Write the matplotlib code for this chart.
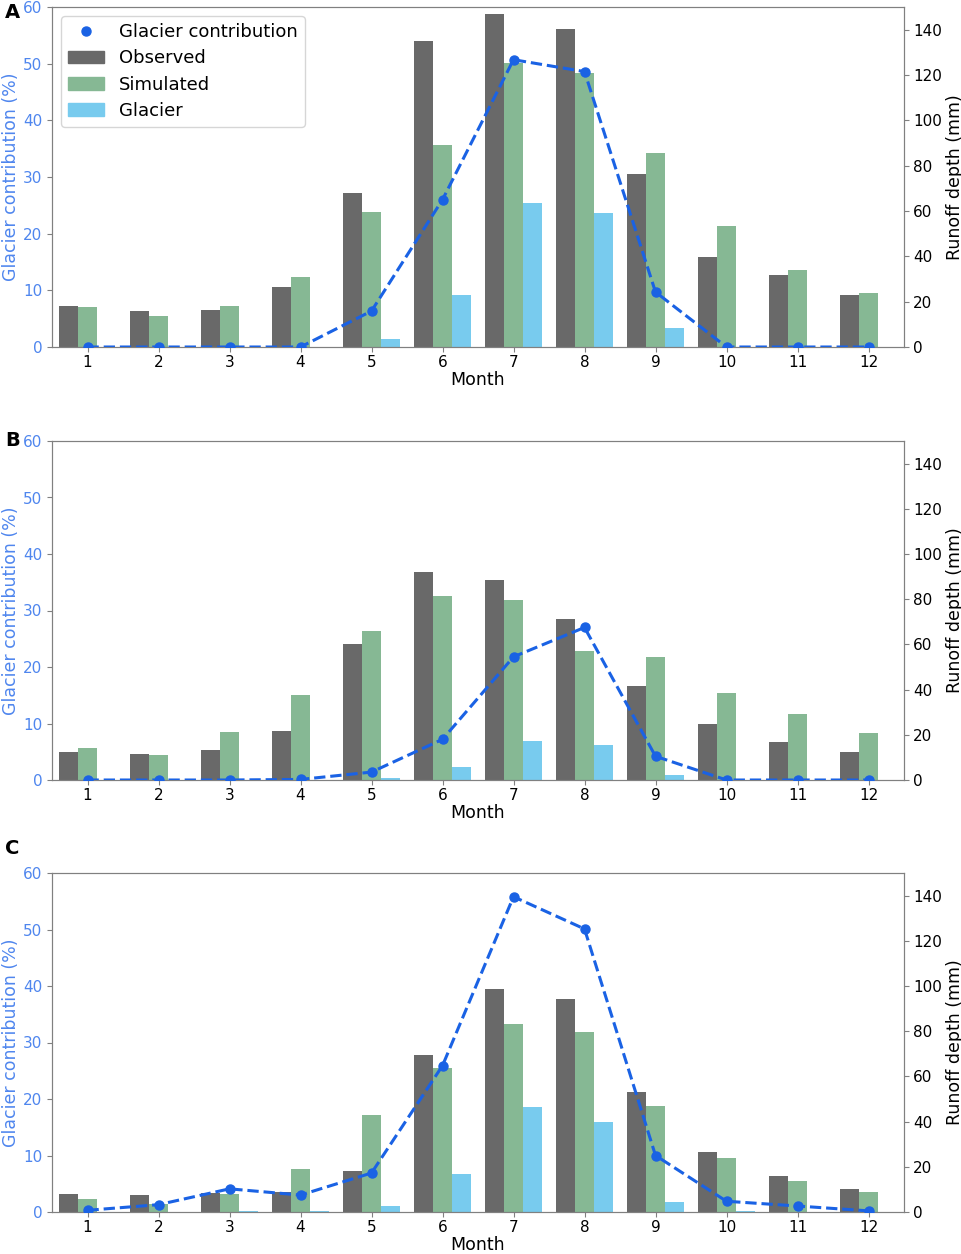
import matplotlib
matplotlib.use("Agg")
import matplotlib.pyplot as plt
import numpy as np
from matplotlib.patches import Patch
from matplotlib.lines import Line2D

months = list(range(1, 13))
month_labels = [str(m) for m in months]

# Panel A
obs_A = [18.1, 15.9, 16.5, 26.6, 67.9, 135.1, 147.0, 140.2, 76.4, 39.9, 31.6, 23.0]
sim_A = [17.6, 13.7, 18.2, 30.9, 59.4, 89.1, 125.3, 121.0, 85.5, 53.2, 34.0, 23.8]
gla_A = [0, 0, 0, 0, 3.7, 23.1, 63.7, 58.9, 8.3, 0, 0, 0]
pct_A = [0, 0, 0, 0, 6.35, 26.0, 50.7, 48.6, 9.7, 0, 0, 0]

# Panel B
obs_B = [12.6, 11.4, 13.2, 21.9, 60.2, 92.1, 88.4, 71.4, 41.8, 25.0, 16.7, 12.6]
sim_B = [14.0, 11.1, 21.1, 37.7, 65.8, 81.6, 79.8, 57.3, 54.4, 38.4, 29.4, 21.0]
gla_B = [0, 0, 0, 0, 1.0, 5.9, 17.4, 15.5, 2.4, 0, 0, 0]
pct_B = [0, 0, 0, 0.1, 1.4, 7.2, 21.8, 27.0, 4.2, 0, 0, 0]

# Panel C
obs_C = [8.1, 7.7, 8.6, 8.9, 18.1, 69.6, 98.5, 94.2, 53.0, 26.7, 16.0, 10.1]
sim_C = [5.6, 3.7, 8.1, 19.0, 43.0, 63.9, 83.4, 79.6, 46.8, 24.1, 13.8, 8.9]
gla_C = [0, 0, 0.4, 0.5, 2.8, 16.6, 46.4, 39.7, 4.6, 0.3, 0, 0]
pct_C = [0.3, 1.3, 4.1, 3.0, 6.9, 25.9, 55.8, 50.1, 10.0, 1.9, 1.06, 0.2]

panels = [
    ("A", obs_A, sim_A, gla_A, pct_A),
    ("B", obs_B, sim_B, gla_B, pct_B),
    ("C", obs_C, sim_C, gla_C, pct_C),
]

c_obs = "#696969"
c_sim = "#86b894"
c_gla = "#78cbee"
c_line = "#1a62e4"
c_left = "#4f86ee"
c_spine = "#808080"

W, H = 962, 1254
fig = plt.figure(figsize=(W / 100, H / 100), dpi=100)

rects = [(52, 7, 904, 347), (52, 441, 904, 780), (52, 873, 904, 1212)]
label_y = [12, 440, 848]

x = np.array(months)
w = 0.27

for (name, obs, sim, gla, pct), (l, t, r, b), ly in zip(panels, rects, label_y):
    ax = fig.add_axes([l / W, 1 - b / H, (r - l) / W, (b - t) / H])
    ax2 = ax.twinx()
    ax2.bar(x - w, obs, width=w, color=c_obs, label="Observed")
    ax2.bar(x, sim, width=w, color=c_sim, label="Simulated")
    ax2.bar(x + w, gla, width=w, color=c_gla, label="Glacier")
    ax2.set_ylim(0, 150)
    ax2.set_yticks([0, 20, 40, 60, 80, 100, 120, 140])
    ax2.set_ylabel("Runoff depth (mm)", fontsize=12.5, labelpad=3)
    ax2.tick_params(axis="y", labelsize=11, color=c_spine, pad=3)

    ax.set_zorder(ax2.get_zorder() + 1)
    ax.patch.set_visible(False)
    ax.plot(x, pct, linestyle="--", color=c_line, linewidth=2.2,
            marker="o", markersize=6.5, zorder=5)
    ax.set_ylim(0, 60)
    ax.set_xlim(0.5, 12.5)
    ax.set_xticks(x)
    ax.set_xticklabels(month_labels)
    ax.set_yticks([0, 10, 20, 30, 40, 50, 60])
    ax.tick_params(axis="y", labelsize=11, labelcolor=c_left, color=c_spine)
    ax.tick_params(axis="x", labelsize=11, color=c_spine, pad=2)
    ax.set_ylabel("Glacier contribution (%)", fontsize=12.5, color=c_left, labelpad=2)
    ax.set_xlabel("Month", fontsize=12.5, labelpad=1)
    for a in (ax, ax2):
        for s in a.spines.values():
            s.set_color(c_spine)

    fig.text(5 / W, 1 - ly / H, name, fontsize=14, fontweight="bold",
             ha="left", va="center")

    if name == "A":
        handles = [
            Line2D([], [], linestyle="none", marker="o", color=c_line, markersize=6.5),
            Patch(color=c_obs), Patch(color=c_sim), Patch(color=c_gla),
        ]
        ax.legend(handles, ["Glacier contribution", "Observed", "Simulated", "Glacier"],
                  loc="upper left", fontsize=13, frameon=True,
                  borderaxespad=0.5, handlelength=2.0, labelspacing=0.45)

fig.savefig("out.png", dpi=100)
